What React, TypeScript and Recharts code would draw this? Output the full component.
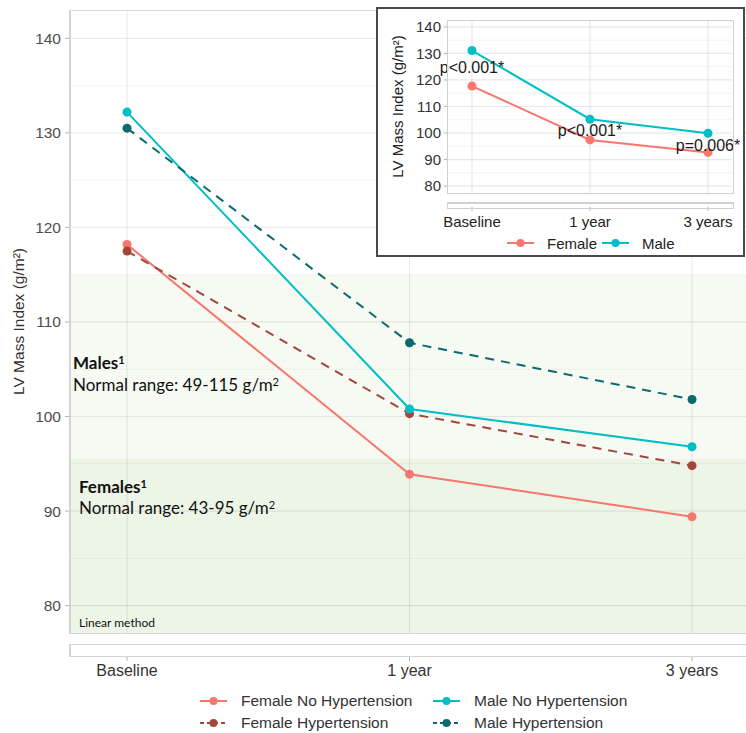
import {
  Line,
  LineChart,
  ReferenceArea,
  ReferenceDot,
  ReferenceLine,
  XAxis,
  YAxis,
} from 'recharts'

const timepoints = ['Baseline', '1 year', '3 years']

// main panel, by sex and hypertension
const femaleNoHtn = [118.2, 93.9, 89.4]
const femaleHtn = [117.5, 100.3, 94.8]
const maleNoHtn = [132.2, 100.8, 96.8]
const maleHtn = [130.5, 107.8, 101.8]

// inset, by sex only
const insetFemale = [117.7, 97.4, 92.7]
const insetMale = [131.1, 105.2, 99.9]
const pValues = ['p<0.001*', 'p<0.001*', 'p=0.006*']
const pLabelY = [124.6, 100.9, 95.3]

const majorTicks = [80, 90, 100, 110, 120, 130, 140]
const minorTicks = [85, 95, 105, 115, 125, 135]
const maleUpper = 115
const femaleUpper = 95.5

const series = [
  { key: 'femaleNoHtn', name: 'Female No Hypertension', color: '#F8766D', dashed: false },
  { key: 'femaleHtn', name: 'Female Hypertension', color: '#A2453B', dashed: true },
  { key: 'maleNoHtn', name: 'Male No Hypertension', color: '#00BFC4', dashed: false },
  { key: 'maleHtn', name: 'Male Hypertension', color: '#0B6A6E', dashed: true },
]

const xIdx = timepoints.map((_, i) => i)

const mainData = timepoints.map((time, i) => ({
  idx: i,
  time,
  femaleNoHtn: femaleNoHtn[i],
  femaleHtn: femaleHtn[i],
  maleNoHtn: maleNoHtn[i],
  maleHtn: maleHtn[i],
}))

const insetData = timepoints.map((time, i) => ({
  idx: i,
  time,
  female: insetFemale[i],
  male: insetMale[i],
}))

const FONT = '"Liberation Sans", Arial, sans-serif'
const MAIN_X: [number, number] = [-0.2018, 2.191]
const MAIN_Y: [number, number] = [77.1, 143]
const INSET_X: [number, number] = [-0.2034, 2.2034]
const INSET_Y: [number, number] = [77.4, 142.6]
const fmtTime = (v: number) => timepoints[v] ?? ''

function LegendIcon({ color, dashed }: { color: string; dashed: boolean }) {
  return (
    <svg width={27} height={10} style={{ display: 'block' }}>
      <line x1={0} y1={5} x2={27} y2={5} stroke={color} strokeWidth={2} strokeDasharray={dashed ? '4 3' : undefined} />
      <circle cx={13.5} cy={5} r={4} fill={color} />
    </svg>
  )
}

function LegendItem({ color, dashed, name, gap }: { color: string; dashed: boolean; name: string; gap: number }) {
  return (
    <div style={{ display: 'flex', alignItems: 'center', height: 22 }}>
      <LegendIcon color={color} dashed={dashed} />
      <span style={{ marginLeft: gap, whiteSpace: 'nowrap' }}>{name}</span>
    </div>
  )
}

function MainLegend() {
  const cols = [series.slice(0, 2), series.slice(2, 4)]
  const lefts = [200, 433]
  return (
    <div style={{ position: 'absolute', left: 0, top: 690, width: 746, height: 44, fontSize: 15.5, color: '#333' }}>
      {cols.map((col, c) => (
        <div key={c} style={{ position: 'absolute', left: lefts[c], top: 0 }}>
          {col.map((s) => (
            <LegendItem key={s.key} color={s.color} dashed={s.dashed} name={s.name} gap={14} />
          ))}
        </div>
      ))}
    </div>
  )
}

function InsetLegend() {
  const items = [
    { name: 'Female', color: '#F8766D', left: 129 },
    { name: 'Male', color: '#00BFC4', left: 224 },
  ]
  return (
    <div style={{ position: 'absolute', left: 0, top: 223, width: 365, height: 22, fontSize: 15, color: '#222' }}>
      {items.map((it) => (
        <div key={it.name} style={{ position: 'absolute', left: it.left, top: 0 }}>
          <LegendItem color={it.color} dashed={false} name={it.name} gap={13} />
        </div>
      ))}
    </div>
  )
}

const note: React.CSSProperties = {
  position: 'absolute',
  fontFamily: 'Lato, "Open Sans", sans-serif',
  fontSize: 17,
  lineHeight: '19px',
  color: '#111',
  whiteSpace: 'nowrap',
}
const sup: React.CSSProperties = { fontSize: 11, verticalAlign: 'top', position: 'relative', top: -3 }

export default function App() {
  return (
    <div style={{ position: 'absolute', left: 0, top: 0, width: 746, height: 733, background: '#fff', fontFamily: FONT, overflow: 'hidden' }}>
      {/* upper panel */}
      <div style={{ position: 'absolute', left: 0, top: 0 }}>
        <LineChart width={746} height={640} data={mainData} margin={{ top: 10, right: 0, bottom: 7, left: 0 }}>
          <XAxis type="number" dataKey="idx" domain={MAIN_X} ticks={xIdx} allowDataOverflow hide />
          <YAxis
            domain={MAIN_Y}
            ticks={majorTicks}
            allowDataOverflow
            width={70}
            axisLine={false}
            tickLine={{ stroke: '#b3b3b3' }}
            tickSize={5}
            tickMargin={4}
            tick={{ fontSize: 15.5, fill: '#4d4d4d' }}
            label={{
              value: 'LV Mass Index (g/m²)',
              angle: -90,
              position: 'insideLeft',
              offset: 18,
              style: { textAnchor: 'middle', fontSize: 15.5, fill: '#333' },
            }}
          />
          <ReferenceArea x1={MAIN_X[0]} x2={MAIN_X[1]} y1={MAIN_Y[0]} y2={maleUpper} fill="#7cb850" fillOpacity={0.07} stroke="none" />
          <ReferenceArea x1={MAIN_X[0]} x2={MAIN_X[1]} y1={MAIN_Y[0]} y2={femaleUpper} fill="#7cb850" fillOpacity={0.07} stroke="none" />
          {minorTicks.map((v) => (
            <ReferenceLine key={'mn' + v} y={v} stroke="#000" strokeOpacity={0.045} strokeWidth={1} />
          ))}
          {majorTicks.map((v) => (
            <ReferenceLine key={'mj' + v} y={v} stroke="#000" strokeOpacity={0.08} strokeWidth={1.2} />
          ))}
          {xIdx.map((i) => (
            <ReferenceLine key={'v' + i} x={i} stroke="#000" strokeOpacity={0.08} strokeWidth={1.2} />
          ))}
          {series.map((s) => (
            <Line
              key={s.key}
              type="linear"
              dataKey={s.key}
              name={s.name}
              stroke={s.color}
              strokeWidth={2}
              strokeDasharray={s.dashed ? '9 7' : undefined}
              dot={{ r: 4.5, fill: s.color, stroke: 'none' }}
              isAnimationActive={false}
            />
          ))}
        </LineChart>
      </div>
      <div style={{ position: 'absolute', left: 69, top: 10, width: 700, height: 622, borderLeft: '2px solid #d4d4d4', borderTop: '1px solid #d9d9d9', borderBottom: '1.5px solid #d4d4d4', pointerEvents: 'none' }} />

      {/* lower strip with 0 and the x axis */}
      <div style={{ position: 'absolute', left: 0, top: 640 }}>
        <LineChart width={746} height={48} data={mainData} margin={{ top: 5, right: 0, bottom: 3, left: 0 }}>
          <XAxis
            type="number"
            dataKey="idx"
            domain={MAIN_X}
            ticks={xIdx}
            tickFormatter={fmtTime}
            allowDataOverflow
            axisLine={false}
            tickLine={{ stroke: '#b3b3b3' }}
            tickSize={5}
            tickMargin={4}
            tick={{ fontSize: 16, fill: '#333' }}
            height={29}
          />
          <YAxis
            domain={[0, 1]}
            ticks={[0]}
            width={70}
            axisLine={false}
            tickLine={{ stroke: '#b3b3b3' }}
            tickSize={5}
            tickMargin={4}
            tick={{ fontSize: 15.5, fill: '#4d4d4d' }}
          />
          {xIdx.map((i) => (
            <ReferenceLine key={'sv' + i} x={i} stroke="#000" strokeOpacity={0.08} strokeWidth={1.2} />
          ))}
        </LineChart>
      </div>
      <div style={{ position: 'absolute', left: 69, top: 644, width: 700, height: 11, borderLeft: '2px solid #d4d4d4', borderTop: '1.5px solid #d4d4d4', borderBottom: '1.5px solid #d4d4d4', pointerEvents: 'none' }} />
      <MainLegend />

      {/* annotations */}
      <div style={{ ...note, left: 73, top: 353, fontWeight: 700 }}>Males<span style={sup}>1</span></div>
      <div style={{ ...note, left: 73, top: 375 }}>Normal range: 49-115 g/m<span style={sup}>2</span></div>
      <div style={{ ...note, left: 79, top: 477, fontWeight: 700 }}>Females<span style={sup}>1</span></div>
      <div style={{ ...note, left: 79, top: 498 }}>Normal range: 43-95 g/m<span style={sup}>2</span></div>
      <div style={{ ...note, left: 79, top: 616, fontSize: 12, lineHeight: '14px' }}>Linear method</div>

      {/* inset */}
      <div style={{ position: 'absolute', left: 376, top: 7, width: 365, height: 246, border: '2px solid #4a4a4a', background: '#fff' }}>
        <div style={{ position: 'absolute', left: 0, top: 0 }}>
          <LineChart width={365} height={186} data={insetData} margin={{ top: 11, right: 11, bottom: 2, left: 0 }}>
            <XAxis type="number" dataKey="idx" domain={INSET_X} ticks={xIdx} allowDataOverflow hide />
            <YAxis
              domain={INSET_Y}
              ticks={majorTicks}
              allowDataOverflow
              width={70}
              axisLine={false}
              tickLine={{ stroke: '#b3b3b3' }}
              tickSize={4}
              tickMargin={3}
              tick={{ fontSize: 15, fill: '#333' }}
              label={{
                value: 'LV Mass Index (g/m²)',
                angle: -90,
                position: 'insideLeft',
                offset: 20,
                style: { textAnchor: 'middle', fontSize: 15, fill: '#222' },
              }}
            />
            {minorTicks.map((v) => (
              <ReferenceLine key={'imn' + v} y={v} stroke="#000" strokeOpacity={0.05} strokeWidth={1} />
            ))}
            {majorTicks.map((v) => (
              <ReferenceLine key={'imj' + v} y={v} stroke="#000" strokeOpacity={0.09} strokeWidth={1.2} />
            ))}
            {xIdx.map((i) => (
              <ReferenceLine key={'iv' + i} x={i} stroke="#000" strokeOpacity={0.09} strokeWidth={1.2} />
            ))}
            <Line type="linear" dataKey="female" name="Female" stroke="#F8766D" strokeWidth={2} dot={{ r: 4.5, fill: '#F8766D', stroke: 'none' }} isAnimationActive={false} />
            <Line type="linear" dataKey="male" name="Male" stroke="#00BFC4" strokeWidth={2} dot={{ r: 4.5, fill: '#00BFC4', stroke: 'none' }} isAnimationActive={false} />
            {xIdx.map((i) => (
              <ReferenceDot
                key={'p' + i}
                x={i}
                y={pLabelY[i]}
                r={0}
                stroke="none"
                fill="none"
                label={{ value: pValues[i], position: 'center', fontSize: 16, fill: '#1a1a1a' }}
              />
            ))}
          </LineChart>
        </div>
        <div style={{ position: 'absolute', left: 69, top: 11, width: 285, height: 172, border: '1px solid #d0d0d0', pointerEvents: 'none' }} />
        <div style={{ position: 'absolute', left: 0, top: 189 }}>
          <LineChart width={365} height={34} data={insetData} margin={{ top: 5, right: 11, bottom: 2, left: 0 }}>
            <XAxis
              type="number"
              dataKey="idx"
              domain={INSET_X}
              ticks={xIdx}
              tickFormatter={fmtTime}
              allowDataOverflow
              axisLine={false}
              tickLine={{ stroke: '#b3b3b3' }}
              tickSize={4}
              tickMargin={5}
              tick={{ fontSize: 15, fill: '#222' }}
              height={23}
            />
            <YAxis
              domain={[0, 1]}
              ticks={[0]}
              width={70}
              axisLine={false}
              tickLine={{ stroke: '#b3b3b3' }}
              tickSize={4}
              tickMargin={3}
              tick={{ fontSize: 15, fill: '#333' }}
            />
            {xIdx.map((i) => (
              <ReferenceLine key={'isv' + i} x={i} stroke="#000" strokeOpacity={0.09} strokeWidth={1.2} />
            ))}
          </LineChart>
        </div>
        <div style={{ position: 'absolute', left: 69, top: 193, width: 285, height: 4, border: '1px solid #d0d0d0', borderTopWidth: 2, pointerEvents: 'none' }} />
        <InsetLegend />
      </div>
    </div>
  )
}
